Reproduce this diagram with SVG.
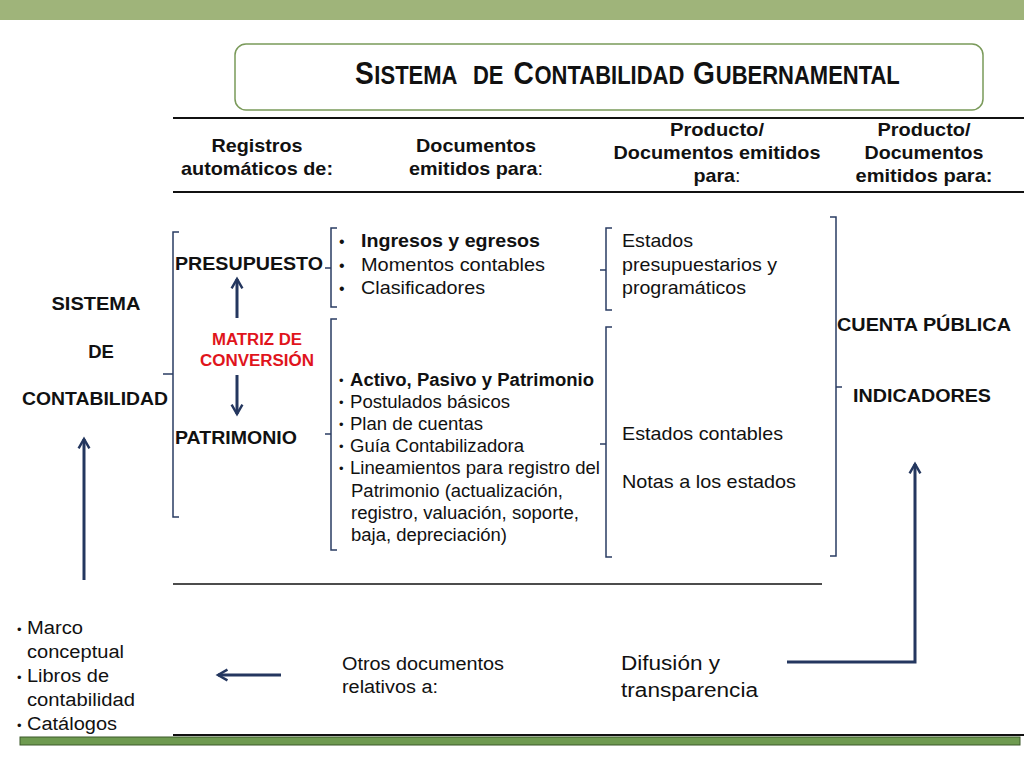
<svg xmlns="http://www.w3.org/2000/svg" width="1024" height="768" viewBox="0 0 1024 768">
<style>
  text { font-family: "Liberation Sans", Arial, sans-serif; fill: #111; }
  .b { font-weight: bold; }
  .hd { font-weight: bold; font-size: 19px; text-anchor: middle; }
  .br { fill: none; stroke: #2a3d63; stroke-width: 1.5; }
  .ar { fill: none; stroke: #24375f; stroke-width: 3; }
  .rule { stroke: #111; stroke-width: 2; }
  .t18 { font-size: 18.5px; }
  .t19 { font-size: 19px; }
  .t17 { font-size: 17.5px; }
  .bu { font-size: 13px; }
  .big { font-size: 32px; font-weight: bold; }
  .sm { font-size: 25px; font-weight: bold; }
</style>
<defs>
  <marker id="ah" viewBox="0 0 10 10" refX="8" refY="5" markerWidth="4.5" markerHeight="4.5" orient="auto" markerUnits="strokeWidth">
    <path d="M1,1 L8,5 L1,9" fill="none" stroke="#24375f" stroke-width="1.8"/>
  </marker>
</defs>
<rect width="1024" height="768" fill="#fff"/>
<rect x="0" y="0" width="1024" height="20" fill="#9fb47a"/>

<g id="title">
  <rect x="235" y="44" width="748" height="66" rx="11" fill="#fff" stroke="#7a9a5a" stroke-width="1.5"/>
  <g transform="translate(355,84) scale(0.88,1)">
    <text class="big" x="0" y="0">S</text>
    <text class="sm" x="22" y="0">ISTEMA</text>
    <text class="sm" x="134" y="0">DE</text>
    <text class="big" x="180" y="0">C</text>
    <text class="sm" x="204" y="0">ONTABILIDAD</text>
    <text class="big" x="384" y="0">G</text>
    <text class="sm" x="410" y="0">UBERNAMENTAL</text>
  </g>
</g>

<g id="header">
  <line x1="173" y1="118" x2="1024" y2="118" class="rule"/>
  <line x1="173" y1="192" x2="1024" y2="192" class="rule"/>
  <text class="hd" x="257" y="152" textLength="91" lengthAdjust="spacingAndGlyphs">Registros</text>
  <text class="hd" x="257" y="175" textLength="152" lengthAdjust="spacingAndGlyphs">automáticos de:</text>
  <text class="hd" x="476" y="152" textLength="120" lengthAdjust="spacingAndGlyphs">Documentos</text>
  <text class="hd" x="476" y="175" textLength="134" lengthAdjust="spacingAndGlyphs">emitidos para<tspan font-weight="normal">:</tspan></text>
  <text class="hd" x="717" y="136" textLength="94" lengthAdjust="spacingAndGlyphs">Producto/</text>
  <text class="hd" x="717" y="159" textLength="207" lengthAdjust="spacingAndGlyphs">Documentos emitidos</text>
  <text class="hd" x="717" y="182" textLength="47" lengthAdjust="spacingAndGlyphs">para<tspan font-weight="normal">:</tspan></text>
  <text class="hd" x="924" y="136" textLength="93" lengthAdjust="spacingAndGlyphs">Producto/</text>
  <text class="hd" x="924" y="159" textLength="119" lengthAdjust="spacingAndGlyphs">Documentos</text>
  <text class="hd" x="924" y="182" textLength="137" lengthAdjust="spacingAndGlyphs">emitidos para:</text>
</g>

<g id="sistema">
  <text class="b t18" x="96" y="310" text-anchor="middle" textLength="89" lengthAdjust="spacingAndGlyphs">SISTEMA</text>
  <text class="b t18" x="101" y="358" text-anchor="middle">DE</text>
  <text class="b t18" x="22" y="405" textLength="146" lengthAdjust="spacingAndGlyphs">CONTABILIDAD</text>
</g>

<g id="registros">
  <path class="br" d="M179,232 H173 V517 H179 M173,374 H163"/>
  <text class="b t18" x="175" y="270" textLength="148" lengthAdjust="spacingAndGlyphs">PRESUPUESTO</text>
  <text class="b t18" x="175" y="444" textLength="122" lengthAdjust="spacingAndGlyphs">PATRIMONIO</text>
  <text class="b" x="257" y="345" font-size="16" text-anchor="middle" textLength="90" lengthAdjust="spacingAndGlyphs" style="fill:#e0141c">MATRIZ DE</text>
  <text class="b" x="257" y="366" font-size="16" text-anchor="middle" textLength="114" lengthAdjust="spacingAndGlyphs" style="fill:#e0141c">CONVERSIÓN</text>
</g>

<g id="docs-presupuesto">
  <path class="br" d="M337,228 H331 V307 H337 M331,268 H325"/>
  <text x="339" y="247" font-size="16">•</text>
  <text x="339" y="271" font-size="16">•</text>
  <text x="339" y="294" font-size="16">•</text>
  <text class="t18 b" x="361" y="247" textLength="179" lengthAdjust="spacingAndGlyphs">Ingresos y egresos</text>
  <text class="t18" x="361" y="271" textLength="184" lengthAdjust="spacingAndGlyphs">Momentos contables</text>
  <text class="t18" x="361" y="294" textLength="124" lengthAdjust="spacingAndGlyphs">Clasificadores</text>
</g>

<g id="docs-patrimonio">
  <path class="br" d="M337,319 H331 V550 H337 M331,434 H325"/>
  <text class="bu" x="339" y="385">•</text>
  <text class="bu" x="339" y="407">•</text>
  <text class="bu" x="339" y="429">•</text>
  <text class="bu" x="339" y="451">•</text>
  <text class="bu" x="339" y="473">•</text>
  <text class="t17 b" x="350" y="386" textLength="244" lengthAdjust="spacingAndGlyphs">Activo, Pasivo y Patrimonio</text>
  <text class="t17" x="350" y="408" textLength="160" lengthAdjust="spacingAndGlyphs">Postulados básicos</text>
  <text class="t17" x="350" y="430" textLength="133" lengthAdjust="spacingAndGlyphs">Plan de cuentas</text>
  <text class="t17" x="350" y="452" textLength="174" lengthAdjust="spacingAndGlyphs">Guía Contabilizadora</text>
  <text class="t17" x="350" y="474" textLength="250" lengthAdjust="spacingAndGlyphs">Lineamientos para registro del</text>
  <text class="t17" x="351" y="497" textLength="212" lengthAdjust="spacingAndGlyphs">Patrimonio (actualización,</text>
  <text class="t17" x="351" y="519" textLength="228" lengthAdjust="spacingAndGlyphs">registro, valuación, soporte,</text>
  <text class="t17" x="351" y="541" textLength="156" lengthAdjust="spacingAndGlyphs">baja, depreciación)</text>
</g>

<g id="prod-presupuesto">
  <path class="br" d="M612,228 H606 V310 H612 M606,270 H600"/>
  <text class="t19" x="622" y="247" textLength="71" lengthAdjust="spacingAndGlyphs">Estados</text>
  <text class="t19" x="622" y="271" textLength="155" lengthAdjust="spacingAndGlyphs">presupuestarios y</text>
  <text class="t19" x="622" y="294" textLength="124" lengthAdjust="spacingAndGlyphs">programáticos</text>
</g>

<g id="prod-patrimonio">
  <path class="br" d="M612,327 H606 V557 H612 M606,444 H600"/>
  <text class="t19" x="622" y="440" textLength="161" lengthAdjust="spacingAndGlyphs">Estados contables</text>
  <text class="t19" x="622" y="488" textLength="174" lengthAdjust="spacingAndGlyphs">Notas a los estados</text>
</g>

<g id="cuenta-publica">
  <path class="br" d="M830,217 H836 V556 H830 M836,387 H842"/>
  <text class="b t18" x="837" y="331" textLength="174" lengthAdjust="spacingAndGlyphs">CUENTA PÚBLICA</text>
  <text class="b t18" x="922" y="402" text-anchor="middle" textLength="138" lengthAdjust="spacingAndGlyphs">INDICADORES</text>
</g>

<line x1="173" y1="584" x2="822" y2="584" stroke="#111" stroke-width="1.5"/>

<g id="marco">
  <text x="17" y="634" font-size="13">•</text>
  <text x="27" y="634" font-size="18" textLength="56" lengthAdjust="spacingAndGlyphs">Marco</text>
  <text x="27" y="658" font-size="18" textLength="97" lengthAdjust="spacingAndGlyphs">conceptual</text>
  <text x="17" y="682" font-size="13">•</text>
  <text x="27" y="682" font-size="18" textLength="82" lengthAdjust="spacingAndGlyphs">Libros de</text>
  <text x="27" y="706" font-size="18" textLength="108" lengthAdjust="spacingAndGlyphs">contabilidad</text>
  <text x="17" y="730" font-size="13">•</text>
  <text x="27" y="730" font-size="18" textLength="90" lengthAdjust="spacingAndGlyphs">Catálogos</text>
</g>

<g id="otros">
  <text x="342" y="670" font-size="18" textLength="162" lengthAdjust="spacingAndGlyphs">Otros documentos</text>
  <text x="342" y="693" font-size="18" textLength="96" lengthAdjust="spacingAndGlyphs">relativos a:</text>
</g>

<g id="difusion">
  <text x="621" y="670" font-size="19.5" textLength="99" lengthAdjust="spacingAndGlyphs">Difusión y</text>
  <text x="621" y="697" font-size="19.5" textLength="137" lengthAdjust="spacingAndGlyphs">transparencia</text>
</g>

<g id="connectors">
  <line class="ar" x1="237" y1="318" x2="237" y2="279" marker-end="url(#ah)"/>
  <line class="ar" x1="237" y1="375" x2="237" y2="414" marker-end="url(#ah)"/>
  <line class="ar" x1="84" y1="580" x2="84" y2="439" marker-end="url(#ah)"/>
  <line class="ar" x1="281" y1="675" x2="218" y2="675" marker-end="url(#ah)"/>
  <polyline class="ar" points="787,662 915,662 915,464" marker-end="url(#ah)"/>
</g>

<line x1="173" y1="735" x2="1024" y2="735" stroke="#111" stroke-width="2"/>
<rect x="20" y="737" width="1000" height="8" fill="#6e9a50" stroke="#3d5a2a" stroke-width="1"/>
</svg>
